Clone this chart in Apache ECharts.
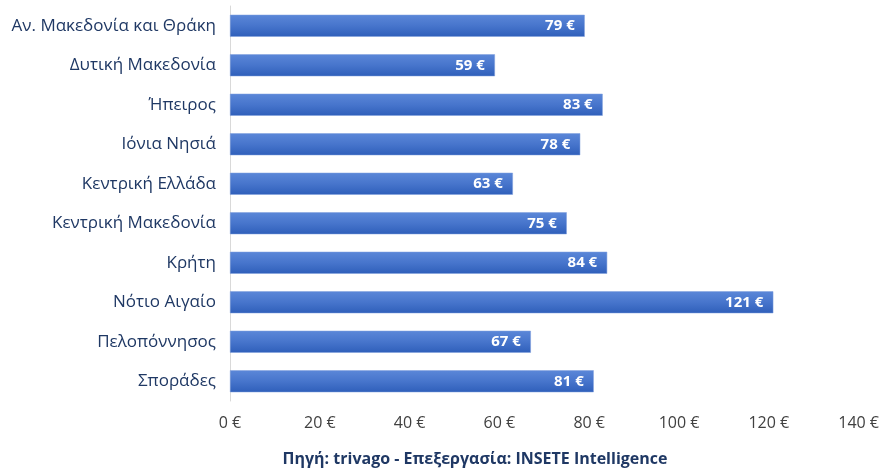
<!DOCTYPE html>
<html>
<head>
<meta charset="utf-8">
<script src="https://cdn.jsdelivr.net/npm/echarts@6/dist/echarts.min.js"></script>
<style>
html,body{margin:0;padding:0;background:#fff;}
#main{width:882px;height:468px;}
</style>
</head>
<body>
<div id="main"></div>
<script>
// categories top to bottom
var regions = ['Αν. Μακεδονία και Θράκη', 'Δυτική Μακεδονία', 'Ήπειρος', 'Ιόνια Νησιά', 'Κεντρική Ελλάδα',
    'Κεντρική Μακεδονία', 'Κρήτη', 'Νότιο Αιγαίο', 'Πελοπόννησος', 'Σποράδες'];
var prices = [79, 59, 83, 78, 63, 75, 84, 121, 67, 81];
var sourceNote = 'Πηγή: trivago - Επεξεργασία: INSETE Intelligence';

var myChart = echarts.init(document.getElementById('main'));
myChart.setOption({
    animation: false,
    textStyle: { fontFamily: 'Open Sans' },
    grid: { left: 230, right: 23, top: 6, bottom: 67, containLabel: false },
    title: {
        text: sourceNote,
        left: 470, top: 446, textAlign: 'center',
        textStyle: { fontSize: 16, fontWeight: 'bold', color: '#1f3864', fontFamily: 'Open Sans' }
    },
    xAxis: {
        type: 'value',
        min: 0, max: 140, interval: 20,
        axisLine: { show: false },
        axisTick: { show: false },
        splitLine: { show: false },
        axisLabel: {
            color: '#404040', fontSize: 16, margin: 14,
            formatter: function (v) { return v + ' €'; }
        }
    },
    yAxis: {
        type: 'category',
        data: regions,
        inverse: true,
        axisLine: { show: true, lineStyle: { color: '#d9d9d9', width: 1 } },
        axisTick: { show: false },
        axisLabel: { color: '#1f3864', fontSize: 17, margin: 14 }
    },
    series: [{
        type: 'bar',
        data: prices,
        barWidth: 22,
        itemStyle: {
            color: new echarts.graphic.LinearGradient(0, 0, 0, 1, [
                { offset: 0, color: '#5b87d8' },
                { offset: 0.5, color: '#4775cc' },
                { offset: 1, color: '#2f5fba' }
            ]),
            borderColor: '#7f9fdc',
            borderWidth: 0.5
        },
        label: {
            show: true,
            position: 'insideRight',
            distance: 10,
            color: '#fff',
            fontWeight: 'bold',
            fontSize: 15,
            formatter: function (p) { return p.value + ' €'; }
        }
    }]
});
</script>
</body>
</html>
